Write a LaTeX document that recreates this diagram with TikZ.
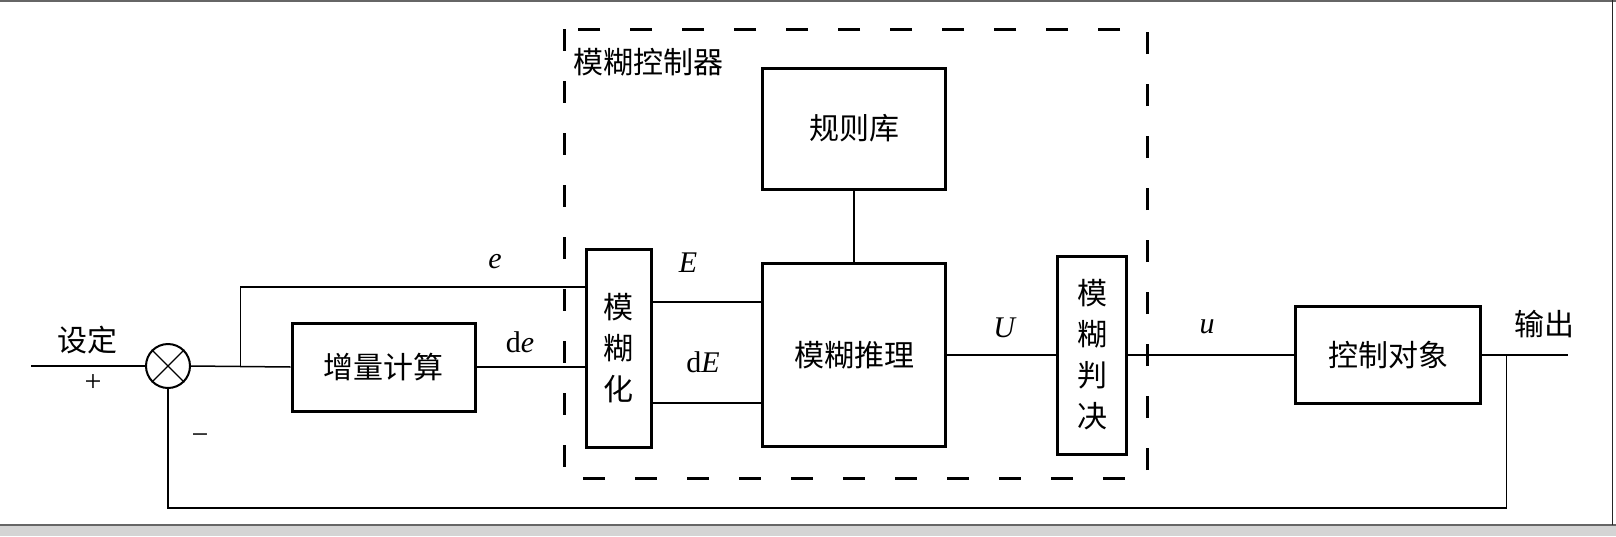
\documentclass[tikz,border=0pt]{standalone}
\usepackage{fontspec}
\setmainfont{Liberation Serif}
\newfontfamily\cjk{Noto Sans CJK SC}

\tikzset{
  block/.style={rectangle, draw, line width=1.5pt, inner sep=0pt, align=center,
    font=\cjk\fontsize{15pt}{20.5pt}\selectfont},
  hanzi/.style={font=\cjk\fontsize{15pt}{18pt}\selectfont},
  sig/.style={font=\fontsize{15pt}{17pt}\selectfont},
  link/.style={line width=0.75pt},
}

\begin{document}
\begin{tikzpicture}[x=0.5pt, y=-0.5pt]
\useasboundingbox (0,0) rectangle (1616,536);
% window frame
\fill[black!17] (0,525) rectangle (1616,536);
\draw[black!60, line width=1pt] (0,1) -- (1616,1);
\draw[black!60, line width=1pt] (0,525) -- (1616,525);
\draw[black!85, line width=0.6pt] (1612.5,0) -- (1612.5,525);

% controller frame
\draw[line width=1.5pt, dash pattern=on 11pt off 15pt] (564,29) rectangle (1147,478);
\node (title) [hanzi] at (648,62) {模糊控制器};

\node (sum) [circle, draw, line width=1pt, minimum size=22pt, inner sep=0pt] at (168,366) {};
\node (inc) [block, minimum width=91.5pt, minimum height=44pt] at (383.5,367) {增量计算};
\node (fuzz) [block, minimum width=32.5pt, minimum height=99pt] at (618.5,348) {模\\糊\\化};
\node (rules) [block, minimum width=91.5pt, minimum height=60.5pt] at (854,128.5) {规则库};
\node (infer) [block, minimum width=91.5pt, minimum height=91.5pt] at (854,355) {模糊推理};
\node (defuzz) [block, minimum width=34.5pt, minimum height=99pt] at (1092,355) {模\\糊\\判\\决};
\node (plant) [block, minimum width=92.5pt, minimum height=48.5pt] at (1388,355) {控制对象};

\coordinate (in) at (31,366);
\coordinate (split) at (240.5,366);
\coordinate (erow) at (0,287);
\coordinate (Erow) at (0,302);
\coordinate (dErow) at (0,403);
\coordinate (tap) at (1506.5,355);
\coordinate (out) at (1568,355);
\coordinate (bottom) at (168,508);

% summing junction
\draw[line width=0.6pt] (sum.north west) -- (sum.south east) (sum.north east) -- (sum.south west);

\draw[link] (in) -- (sum.west);
\draw[link] (sum.east) -- (inc.west);
\draw[link] (split) |- (fuzz.west |- erow);
\draw[link] (inc.east) -- (inc.east -| fuzz.west);
\draw[link] (fuzz.east |- Erow) -- (infer.west |- Erow);
\draw[link] (fuzz.east |- dErow) -- (infer.west |- dErow);
\draw[link] (rules.south) -- (infer.north);
\draw[link] (infer.east) -- (defuzz.west);
\draw[link] (defuzz.east) -- (plant.west);
\draw[link] (plant.east) -- (out);
\draw[link] (tap) |- (bottom) -- (sum.south);

% labels
\node (setp) [hanzi] at (87,340) {设定};
\node (plus) [sig] at (93,383) {+};
\node (minus) [sig] at (200,439) {−};
\node (le) [sig] at (495,262) {\textit{e}};
\node (lde) [sig] at (520,342) {d\textit{e}};
\node (lE) [sig] at (688,263) {\textit{E}};
\node (ldE) [sig] at (703,362) {d\textit{E}};
\node (lU) [sig] at (1005,328) {\textit{U}};
\node (lu) [sig] at (1207,327) {\textit{u}};
\node (outp) [hanzi] at (1544,324) {输出};
\end{tikzpicture}
\end{document}
